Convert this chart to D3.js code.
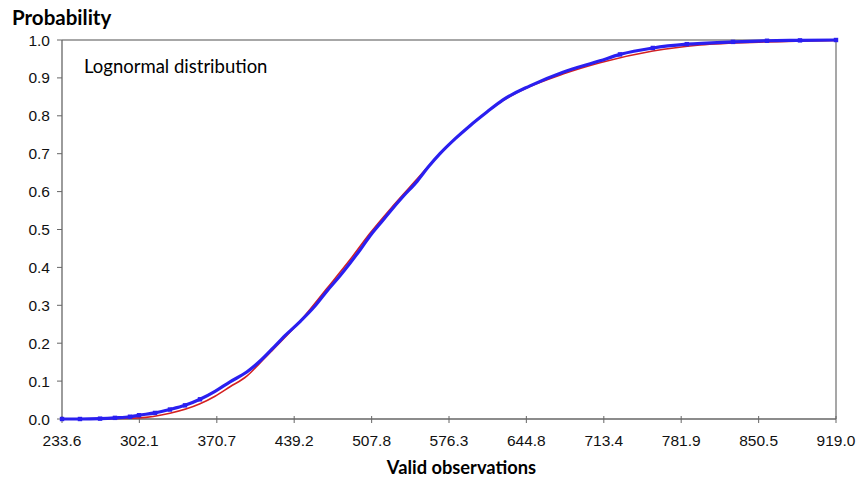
<!DOCTYPE html>
<html lang="en">
<head>
  <meta charset="UTF-8">
  <title>Lognormal distribution</title>
  <style>
    body { margin: 0; background: #fff; }
    .tk { font-family: "Liberation Sans", Arial, sans-serif; font-size: 15.5px; fill: #111; }
    .lb { font-family: Lato, "Open Sans", sans-serif; fill: #000; }
  </style>
</head>
<body>
  <svg width="858" height="477" id="chart"></svg>
  <script src="https://d3js.org/d3.v7.min.js"></script>
  <script>
    // tick labels
    let xTicks = [233.6, 302.1, 370.7, 439.2, 507.8, 576.3, 644.8, 713.4, 781.9, 850.5, 919.0];
    let yTicks = [0, 0.1, 0.2, 0.3, 0.4, 0.5, 0.6, 0.7, 0.8, 0.9, 1.0];

    let obsX = [233.6, 249.5, 267.3, 280.5, 293.8, 301.8, 316.0, 329.2, 342.5, 355.8, 369.1, 382.4, 397.2,
                409.0, 420.4, 431.1, 444.4, 457.6, 468.3, 479.8, 488.6, 497.5, 506.3, 515.2, 524.0, 535.6,
                548.0, 557.7, 568.3, 581.6, 594.9, 609.9, 624.1, 648.0, 677.2, 710.0, 727.7, 756.8, 786.9,
                827.8, 857.9, 887.1, 919.0];
    let obsP = [0.000, 0.000, 0.001, 0.003, 0.006, 0.010, 0.016, 0.025, 0.036, 0.052, 0.073, 0.098, 0.124,
                0.153, 0.187, 0.220, 0.257, 0.298, 0.338, 0.378, 0.411, 0.446, 0.483, 0.515, 0.547, 0.587,
                0.627, 0.664, 0.700, 0.739, 0.774, 0.810, 0.842, 0.879, 0.915, 0.945, 0.962, 0.979, 0.989,
                0.995, 0.998, 0.999, 1.000];

    // fitted lognormal (red)
    let fitX = [233.6, 301.8, 329.2, 355.8, 369.1, 382.4, 397.2, 409.0, 420.4, 444.4, 468.3, 488.6, 506.3,
                524.0, 548.0, 568.3, 594.9, 624.1, 677.2, 710.0, 756.8, 798.5, 857.9, 919.0];
    let fitP = [0.000, 0.003, 0.015, 0.040, 0.060, 0.085, 0.113, 0.148, 0.183, 0.258, 0.345, 0.420, 0.490,
                0.553, 0.633, 0.700, 0.774, 0.840, 0.910, 0.940, 0.971, 0.987, 0.995, 0.999];

    let svg = d3.select('#chart');
    let m = {left: 62, right: 836, top: 40, bottom: 419};

    let x = d3.scaleLinear().domain([233.6, 919.0]).range([m.left, m.right]);
    let y = d3.scaleLinear().domain([0, 1]).range([m.bottom, m.top]);

    // frame (top / right)
    svg.append('path')
        .attr('d', `M${m.left},${m.top}H${m.right}V${m.bottom}`)
        .attr('fill', 'none')
        .attr('stroke', '#8a8a8a')
        .attr('stroke-width', 1.5);

    // x axis
    let xAxis = svg.append('g').attr('transform', `translate(0,${m.bottom})`);
    xAxis.append('line').attr('x1', m.left).attr('x2', m.right).attr('stroke', '#666').attr('stroke-width', 1.3);
    xAxis.selectAll('line.tick').data(xTicks).join('line')
        .attr('class', 'tick')
        .attr('x1', d => x(d)).attr('x2', d => x(d))
        .attr('y1', -3).attr('y2', 4)
        .attr('stroke', '#666');
    xAxis.selectAll('text').data(xTicks).join('text')
        .attr('class', 'tk')
        .attr('x', d => x(d)).attr('y', 27)
        .attr('text-anchor', 'middle')
        .text(d => d.toFixed(1));

    // y axis
    let yAxis = svg.append('g').attr('transform', `translate(${m.left},0)`);
    yAxis.append('line').attr('y1', m.top).attr('y2', m.bottom).attr('stroke', '#666').attr('stroke-width', 1.3);
    yAxis.selectAll('line.tick').data(yTicks).join('line')
        .attr('class', 'tick')
        .attr('x1', -5).attr('x2', 0)
        .attr('y1', d => y(d)).attr('y2', d => y(d))
        .attr('stroke', '#666');
    yAxis.selectAll('text').data(yTicks).join('text')
        .attr('class', 'tk')
        .attr('x', -12).attr('y', d => y(d) + 5.5)
        .attr('text-anchor', 'end')
        .text(d => d.toFixed(1));

    // fitted curve
    let fit = fitX.map((v, i) => [v, fitP[i]]);
    svg.append('path')
        .datum(fit)
        .attr('d', d3.line().x(d => x(d[0])).y(d => y(d[1])).curve(d3.curveMonotoneX))
        .attr('fill', 'none')
        .attr('stroke', '#d42020')
        .attr('stroke-width', 1.6);

    // observations
    let obs = obsX.map((v, i) => [v, obsP[i]]);
    svg.append('path')
        .datum(obs)
        .attr('d', d3.line().x(d => x(d[0])).y(d => y(d[1])).curve(d3.curveMonotoneX))
        .attr('fill', 'none')
        .attr('stroke', '#2a1ff0')
        .attr('stroke-width', 3.2);
    // sparse markers in the tails
    svg.selectAll('rect.pt').data(obs.filter(d => d[1] < 0.06 || d[1] > 0.95)).join('rect')
        .attr('class', 'pt')
        .attr('x', d => x(d[0]) - 2.2).attr('y', d => y(d[1]) - 2.2)
        .attr('width', 4.4).attr('height', 4.4)
        .attr('fill', '#2a1ff0');

    // labels
    svg.append('text')
        .attr('class', 'lb')
        .attr('x', 12).attr('y', 25)
        .style('font-weight', 'bold')
        .style('font-size', '20.5px')
        .text('Probability');

    svg.append('text')
        .attr('class', 'lb')
        .attr('x', 84).attr('y', 73)
        .style('font-size', '18.5px')
        .text('Lognormal distribution');

    svg.append('text')
        .attr('class', 'lb')
        .attr('x', 461.5).attr('y', 473.5)
        .attr('text-anchor', 'middle')
        .style('font-weight', 'bold')
        .style('font-size', '18.3px')
        .text('Valid observations');
  </script>
</body>
</html>
